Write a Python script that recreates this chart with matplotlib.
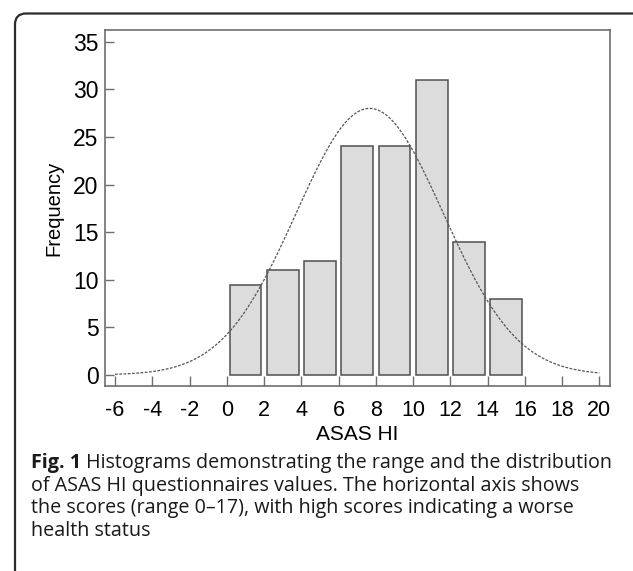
import numpy as np
import matplotlib
matplotlib.use("Agg")
import matplotlib.pyplot as plt
from matplotlib.patches import FancyBboxPatch

# datos del histograma
bin_centers = [1, 3, 5, 7, 9, 11, 13, 15]
frequencies = [9.5, 11, 12, 24, 24, 31, 14, 8]
x_ticks = list(range(-6, 21, 2))
y_ticks = list(range(0, 36, 5))

# curva normal ajustada
curve_mean = 7.67
curve_sd = 3.95
curve_peak = 28.0
curve_range = (-6, 20)

axis_font = ['Liberation Sans Narrow', 'Liberation Sans', 'DejaVu Sans']
spine_col = '#6e6e6e'

W, H = 633, 571
fig = plt.figure(figsize=(W / 100, H / 100), dpi=100)

# marco exterior redondeado, en pixeles (el borde derecho queda fuera)
frame = FancyBboxPatch((15, -60), 630, H - 13.5 + 60,
                       boxstyle="round,pad=0,rounding_size=11",
                       transform=None, fill=False,
                       edgecolor='#2b2b2b', linewidth=1.6, clip_on=False)
fig.patches.append(frame)

ax = fig.add_axes([105 / W, 1 - 386 / H, 505 / W, 356 / H])

ax.bar(bin_centers, frequencies, width=1.7, color='#dcdcdc',
       edgecolor='#505050', linewidth=1.1, zorder=2)

xs = np.linspace(curve_range[0], curve_range[1], 400)
ys = curve_peak * np.exp(-(xs - curve_mean) ** 2 / (2 * curve_sd ** 2))
ax.plot(xs, ys, color='#555555', linewidth=0.9, dashes=(2.2, 1.2), zorder=3)

ax.set_xlim(-6.54, 20.57)
ax.set_ylim(-1.16, 36.23)
ax.set_xticks(x_ticks)
ax.set_yticks(y_ticks)
ax.set_xticklabels([str(v) for v in x_ticks], family=axis_font, fontsize=15.5)
ax.set_yticklabels([str(v) for v in y_ticks], family=axis_font, fontsize=16.5)
ax.tick_params(axis='x', direction='in', length=7, width=1, color=spine_col, pad=10)
ax.tick_params(axis='y', direction='in', length=6.5, width=1, color=spine_col, pad=4.5)

for sp in ax.spines.values():
    sp.set_color(spine_col)
    sp.set_linewidth(1.2)

ax.set_xlabel('ASAS HI', family=axis_font, fontsize=15, labelpad=3)
ax.set_ylabel('Frequency', family=['Liberation Sans', 'DejaVu Sans'],
              fontsize=14.5, labelpad=7)

# pie de figura
cap_lines = [
    " Histograms demonstrating the range and the distribution",
    "of ASAS HI questionnaires values. The horizontal axis shows",
    "the scores (range 0\u201317), with high scores indicating a worse",
    "health status",
]
cap_font = ['Open Sans', 'DejaVu Sans']
cap_size = 14.2
x0 = 31 / W
y_rows = [463, 486, 508, 531]

t = fig.text(x0, 1 - y_rows[0] / H, "Fig. 1", family=cap_font, fontsize=cap_size,
             fontweight='bold', va='center', ha='left', color='#1a1a1a')
fig.canvas.draw()
bb = t.get_window_extent()
fig.text(bb.x1 / fig.bbox.width, 1 - y_rows[0] / H, cap_lines[0], family=cap_font,
         fontsize=cap_size, va='center', ha='left', color='#1a1a1a')
for line, yr in zip(cap_lines[1:], y_rows[1:]):
    fig.text(x0, 1 - yr / H, line, family=cap_font, fontsize=cap_size,
             va='center', ha='left', color='#1a1a1a')

fig.savefig('out.png', dpi=100)
